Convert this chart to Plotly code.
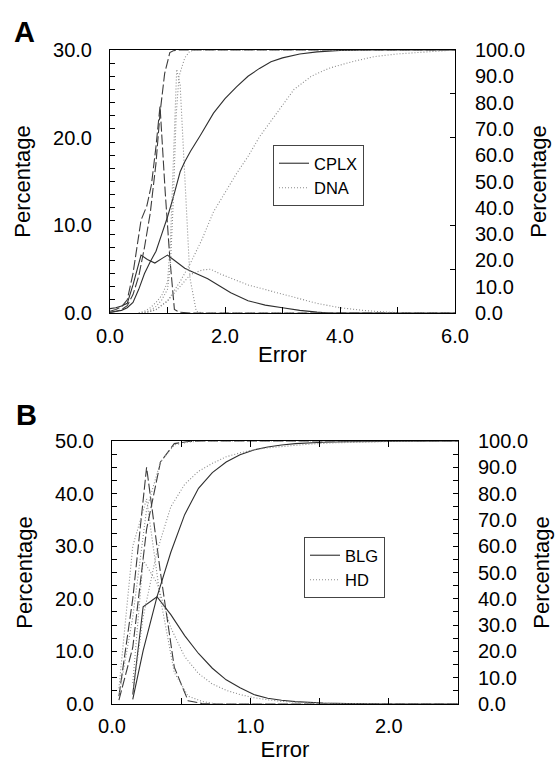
import plotly.graph_objects as go

# ---------------- Panel A data ----------------
# CPLX, solid: distribution (left axis) and cumulative (right axis)
cplx_dist_x = [0.0, 0.1, 0.2, 0.3, 0.4, 0.54, 0.65, 0.78, 0.9, 1.0, 1.1, 1.2, 1.3, 1.4, 1.6, 1.7, 1.9, 2.1, 2.4, 2.7, 3.0, 3.3, 3.6, 3.8, 4.5, 6.0]
cplx_dist_y = [0.5, 0.6, 0.8, 1.1, 3.2, 6.6, 6.1, 5.7, 6.2, 6.6, 6.1, 5.6, 5.1, 4.8, 4.2, 3.9, 3.1, 2.3, 1.4, 0.9, 0.6, 0.3, 0.1, 0.0, 0.0, 0.0]
cplx_cum_x = [0.0, 0.1, 0.2, 0.3, 0.4, 0.5, 0.6, 0.7, 0.8, 0.9, 1.0, 1.1, 1.22, 1.3, 1.4, 1.57, 1.8, 2.0, 2.2, 2.4, 2.6, 2.8, 3.0, 3.3, 3.6, 4.0, 4.5, 6.0]
cplx_cum_y = [0.3, 0.6, 1.0, 2.0, 4.0, 9.0, 15.0, 19.5, 23.5, 30.0, 36.5, 44.0, 53.7, 57.5, 61.5, 67.5, 76.0, 81.5, 86.0, 90.0, 93.0, 95.5, 97.0, 98.5, 99.3, 99.8, 100.0, 100.0]
# CPLX, dashed (second set)
cplx2_dist_x = [0.0, 0.1, 0.2, 0.3, 0.4, 0.54, 0.64, 0.72, 0.8, 0.87, 0.96, 1.04, 1.12, 1.2, 1.4, 6.0]
cplx2_dist_y = [0.2, 0.4, 0.7, 1.5, 4.5, 10.6, 12.2, 14.6, 19.0, 23.6, 13.8, 6.3, 0.4, 0.1, 0.0, 0.0]
cplx2_cum_x = [0.0, 0.1, 0.2, 0.3, 0.4, 0.5, 0.6, 0.7, 0.8, 0.87, 0.95, 1.04, 1.1, 1.2, 6.0]
cplx2_cum_y = [0.2, 0.6, 1.3, 2.8, 7.0, 14.0, 25.0, 38.0, 57.0, 76.0, 91.0, 99.0, 99.7, 100.0, 100.0]
# DNA, dotted: narrow set
dna_dist_x = [0.5, 0.6, 0.7, 0.8, 0.9, 1.0, 1.05, 1.1, 1.16, 1.22, 1.3, 1.39, 1.5, 1.6, 6.0]
dna_dist_y = [0.0, 0.2, 0.6, 1.2, 2.0, 3.5, 8.0, 17.0, 27.8, 26.0, 15.4, 4.0, 0.2, 0.0, 0.0]
dna_cum_x = [0.5, 0.6, 0.7, 0.8, 0.9, 1.0, 1.05, 1.1, 1.15, 1.2, 1.3, 1.39, 1.5, 6.0]
dna_cum_y = [0.0, 0.3, 1.0, 2.5, 5.0, 9.0, 18.0, 42.0, 75.0, 90.0, 97.0, 99.6, 100.0, 100.0]
# DNA, dotted: broad set
dna2_dist_x = [0.6, 0.8, 1.0, 1.2, 1.4, 1.6, 1.75, 1.9, 2.1, 2.4, 2.6, 2.8, 3.0, 3.3, 3.6, 4.0, 4.4, 4.8, 5.2, 6.0]
dna2_dist_y = [0.0, 0.4, 1.4, 2.9, 4.4, 4.9, 5.0, 4.5, 4.0, 3.2, 2.85, 2.5, 2.1, 1.6, 1.1, 0.6, 0.3, 0.1, 0.0, 0.0]
dna2_cum_x = [0.6, 0.8, 1.0, 1.22, 1.4, 1.6, 1.8, 2.0, 2.2, 2.4, 2.6, 2.8, 3.0, 3.2, 3.5, 3.8, 4.2, 4.6, 5.0, 5.5, 6.0]
dna2_cum_y = [0.0, 1.2, 4.5, 12.0, 19.0, 28.0, 38.5, 46.0, 53.0, 59.5, 67.0, 73.0, 79.0, 85.0, 90.0, 93.0, 95.5, 97.5, 98.5, 99.3, 100.0]

# ---------------- Panel B data ----------------
blg_dist_x = [0.15, 0.225, 0.325, 0.425, 0.525, 0.625, 0.725, 0.825, 0.925, 1.025, 1.125, 1.225, 1.325, 1.425, 1.525, 1.7, 2.0, 2.5]
blg_dist_y = [1.8, 18.5, 20.4, 17.0, 13.0, 9.6, 6.8, 4.6, 3.1, 1.8, 1.1, 0.7, 0.45, 0.3, 0.2, 0.1, 0.0, 0.0]
blg_cum_x = [0.15, 0.225, 0.325, 0.425, 0.525, 0.625, 0.725, 0.825, 0.925, 1.025, 1.125, 1.225, 1.325, 1.425, 1.525, 1.7, 2.0, 2.5]
blg_cum_y = [1.8, 20.3, 40.7, 57.7, 72.0, 82.0, 88.0, 92.0, 94.8, 96.6, 97.7, 98.5, 99.0, 99.3, 99.5, 99.7, 99.9, 100.0]
blg2_dist_x = [0.05, 0.15, 0.25, 0.35, 0.45, 0.55, 0.65, 0.75, 2.5]
blg2_dist_y = [1.5, 20.0, 45.0, 25.0, 7.0, 0.6, 0.1, 0.0, 0.0]
blg2_cum_x = [0.05, 0.15, 0.25, 0.35, 0.45, 0.55, 0.65, 2.5]
blg2_cum_y = [1.5, 21.5, 66.5, 92.0, 99.0, 99.8, 100.0, 100.0]
hd_dist_x = [0.15, 0.225, 0.325, 0.425, 0.525, 0.625, 0.725, 0.825, 0.925, 1.025, 1.125, 1.225, 1.325, 1.425, 1.6, 2.0, 2.5]
hd_dist_y = [4.0, 27.4, 23.0, 14.5, 9.0, 5.8, 3.8, 2.6, 1.8, 1.2, 0.8, 0.5, 0.35, 0.2, 0.1, 0.0, 0.0]
hd_cum_x = [0.15, 0.225, 0.325, 0.425, 0.525, 0.625, 0.725, 0.825, 0.925, 1.025, 1.125, 1.225, 1.325, 1.425, 1.6, 2.0, 2.5]
hd_cum_y = [4.0, 33.0, 58.0, 75.0, 83.5, 88.5, 91.5, 94.0, 95.5, 96.7, 97.4, 97.9, 98.4, 98.8, 99.3, 99.8, 100.0]
hd2_dist_x = [0.05, 0.15, 0.25, 0.35, 0.45, 0.55, 0.65, 0.75, 2.5]
hd2_dist_y = [3.0, 30.0, 39.0, 20.0, 6.0, 1.5, 0.5, 0.0, 0.0]
hd2_cum_x = [0.05, 0.15, 0.25, 0.35, 0.45, 0.55, 0.65, 2.5]
hd2_cum_y = [3.0, 33.0, 74.0, 92.0, 98.5, 99.6, 100.0, 100.0]

SOLID = dict(color="#2e2e2e", width=1.1, dash="solid")
DASH = dict(color="#3c3c3c", width=1.1, dash="10px,3px")
DOT = dict(color="#8a8a8a", width=1.1, dash="1px,2px")

fig = go.Figure()

def add(x, y, line, xa, ya, name=None, legend=None):
    fig.add_trace(go.Scatter(
        x=x, y=y, mode="lines", line=line, xaxis=xa, yaxis=ya,
        name=name if name else "", showlegend=name is not None,
        legend=legend if legend else "legend", hoverinfo="skip"))

# Panel A
add(cplx_dist_x, cplx_dist_y, SOLID, "x", "y", "CPLX", "legend")
add(dna_dist_x, dna_dist_y, DOT, "x", "y", "DNA", "legend")
add(cplx_cum_x, cplx_cum_y, SOLID, "x", "y2")
add(cplx2_dist_x, cplx2_dist_y, DASH, "x", "y")
add(cplx2_cum_x, cplx2_cum_y, DASH, "x", "y2")
add(dna_cum_x, dna_cum_y, DOT, "x", "y2")
add(dna2_dist_x, dna2_dist_y, DOT, "x", "y")
add(dna2_cum_x, dna2_cum_y, DOT, "x", "y2")

# Panel B
add(blg_dist_x, blg_dist_y, SOLID, "x2", "y3", "BLG", "legend2")
add(hd_dist_x, hd_dist_y, DOT, "x2", "y3", "HD", "legend2")
add(blg_cum_x, blg_cum_y, SOLID, "x2", "y4")
add(blg2_dist_x, blg2_dist_y, DASH, "x2", "y3")
add(blg2_cum_x, blg2_cum_y, DASH, "x2", "y4")
add(hd_cum_x, hd_cum_y, DOT, "x2", "y4")
add(hd2_dist_x, hd2_dist_y, DOT, "x2", "y3")
add(hd2_cum_x, hd2_cum_y, DOT, "x2", "y4")

W, H = 558, 762
FONT = "Liberation Sans, Arial, Helvetica, sans-serif"
TICKF = dict(family=FONT, size=20, color="black")
TITLEF = dict(family=FONT, size=22, color="black")
AX = dict(showline=True, linecolor="black", linewidth=1, showgrid=False, zeroline=False,
          tickfont=TICKF, tickcolor="black", automargin=False, tickformat=".1f")

def px_x(p):
    return p / W

def px_y(p):
    return 1 - p / H

LEGF = dict(family=FONT, size=16.5, color="black")

fig.update_layout(
    template="none",
    width=W, height=H,
    margin=dict(l=0, r=0, t=0, b=0),
    paper_bgcolor="white", plot_bgcolor="white",
    font=dict(family=FONT, color="black"),
    xaxis=dict(AX, domain=[px_x(110), px_x(455)], range=[0, 6], anchor="y",
               tick0=0, dtick=2, ticks="inside", ticklen=6, mirror=True,
               minor=dict(dtick=1, tick0=0, ticks="inside", ticklen=6, tickcolor="black"),
               ticklabelstandoff=5,
               title=dict(text="Error", font=TITLEF, standoff=0)),
    yaxis=dict(AX, domain=[px_y(313), px_y(50)], range=[0, 30], anchor="x",
               tick0=0, dtick=10, ticks="",
               minor=dict(dtick=1.5, tick0=0, ticks="inside", ticklen=5, tickcolor="black"),
               ticklabelstandoff=13,
               title=dict(text="Percentage", font=TITLEF, standoff=16)),
    yaxis2=dict(AX, overlaying="y", side="right", range=[0, 100], anchor="x",
                tick0=0, dtick=10, ticks="",
                minor=dict(dtick=100 / 6, tick0=0, ticks="inside", ticklen=5, tickcolor="black"),
                ticklabelstandoff=15,
                title=dict(text="Percentage", font=TITLEF, standoff=6)),
    xaxis2=dict(AX, domain=[px_x(112), px_x(458)], range=[0, 2.5], anchor="y3",
                tick0=0, dtick=1, ticks="inside", ticklen=6, mirror="ticks",
                minor=dict(dtick=0.5, tick0=0, ticks="inside", ticklen=6, tickcolor="black"),
                ticklabelstandoff=4,
                title=dict(text="Error", font=TITLEF, standoff=0)),
    yaxis3=dict(AX, domain=[px_y(704), px_y(441)], range=[0, 50], anchor="x2",
                tick0=0, dtick=10, ticks="inside", ticklen=5,
                minor=dict(dtick=2.5, tick0=0, ticks="inside", ticklen=5, tickcolor="black"),
                ticklabelstandoff=13,
                title=dict(text="Percentage", font=TITLEF, standoff=16)),
    yaxis4=dict(AX, overlaying="y3", side="right", range=[0, 100], anchor="x2",
                tick0=0, dtick=10, ticks="inside", ticklen=5,
                minor=dict(dtick=5, tick0=0, ticks="inside", ticklen=5, tickcolor="black"),
                ticklabelstandoff=15,
                title=dict(text="Percentage", font=TITLEF, standoff=6)),
    legend=dict(x=px_x(273), y=px_y(145), xanchor="left", yanchor="top",
                bordercolor="#444", borderwidth=1, bgcolor="white", font=LEGF),
    legend2=dict(x=px_x(304), y=px_y(537), xanchor="left", yanchor="top",
                 bordercolor="#444", borderwidth=1, bgcolor="white", font=LEGF),
    annotations=[
        dict(text="<b>A</b>", x=px_x(12), y=px_y(14), xref="paper", yref="paper",
             xanchor="left", yanchor="top", showarrow=False,
             font=dict(family=FONT, size=29, color="black")),
        dict(text="<b>B</b>", x=px_x(14), y=px_y(397), xref="paper", yref="paper",
             xanchor="left", yanchor="top", showarrow=False,
             font=dict(family=FONT, size=29, color="black")),
    ],
)

fig.write_html("out.html")
